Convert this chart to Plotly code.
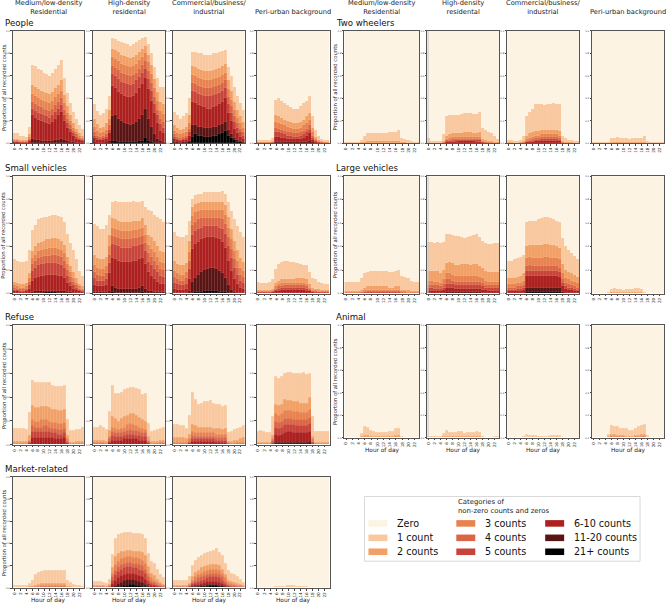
import plotly.graph_objects as go

W, H = 668, 606
HOURS = list(range(24))
HOUR_TICKS = list(range(0, 24, 2))
Y_TICKS = [0, 0.2, 0.4, 0.6, 0.8, 1.0]
Y_TICK_TEXT = ["0.0", "0.2", "0.4", "0.6", "0.8", "1.0"]

# category names, bottom of stack first
CATS = ["21+ counts", "11-20 counts", "6-10 counts", "5 counts", "4 counts",
        "3 counts", "2 counts", "1 count", "Zero"]
COLORS = {
    "Zero": "#fdf3e2", "1 count": "#f9c89f", "2 counts": "#f2a066",
    "3 counts": "#e8834f", "4 counts": "#da6646", "5 counts": "#c8443a",
    "6-10 counts": "#ad2020", "11-20 counts": "#5a1414", "21+ counts": "#000000",
}
COLUMN_TITLES = ["Medium/low-density<br>Residential", "High-density<br>residental",
                 "Commercial/business/<br>industrial", "Peri-urban background"]

# Each panel: cumulative upper edges (%) of 1 count, 2, 3, 4, 5, 6-10, 11-20, 21+ (top-down)
people_med = [
    [9,9,7,7,6,15,70,69,66,65,63,62,60,63,66,70,74,58,45,36,28,22,16,13],
    [4,4,3,3,3,8,52,50,48,47,46,45,44,46,49,52,56,43,33,25,18,13,9,7],
    [3,3,2,2,2,6,44,42,40,39,38,37,36,38,41,44,47,36,27,20,14,10,7,5],
    [2,2,1,1,1,4,37,35,33,32,31,30,29,31,34,37,40,30,22,16,11,8,5,4],
    [1,1,1,1,1,3,31,29,27,26,25,24,23,25,28,31,34,25,18,13,9,6,4,3],
    [1,1,0,0,0,2,25,23,21,20,19,18,17,19,22,25,28,20,14,10,7,4,3,2],
    [0,0,0,0,0,0,4,3,3,2,2,2,2,2,3,3,4,3,2,1,1,0,0,0],
]
people_high = [
    [35,29,25,27,31,42,94,93,91,90,89,88,87,88,90,92,94,95,88,80,68,58,50,50],
    [22,17,14,15,18,30,84,83,81,79,78,77,76,77,79,81,84,87,79,70,57,46,37,35],
    [15,11,9,10,12,22,77,75,73,71,70,69,68,69,71,74,77,80,72,62,49,38,29,26],
    [10,7,6,7,8,16,69,67,65,63,62,61,60,61,63,66,70,73,64,54,41,30,22,19],
    [7,5,4,5,6,12,62,60,57,55,54,53,52,53,56,59,63,66,57,47,35,25,17,14],
    [5,3,3,3,4,9,51,49,46,44,42,41,41,42,45,49,53,58,48,38,27,18,11,9],
    [1,0,0,0,1,2,24,25,22,20,18,17,16,17,19,22,25,31,22,15,8,4,2,1],
    [0,0,0,0,0,0,2,2,1,1,1,1,1,1,1,2,2,5,2,1,0,0,0,0],
]
people_com = [
    [28,25,22,24,27,40,81,81,80,80,79,79,79,80,80,81,82,83,68,60,50,42,36,30],
    [16,14,12,13,15,25,69,68,66,65,64,64,64,65,66,67,69,71,56,47,37,30,24,19],
    [11,9,8,9,10,18,61,60,58,57,56,56,56,57,58,59,61,63,48,39,30,23,18,14],
    [8,6,5,6,7,13,54,53,51,50,49,49,49,50,51,52,54,56,41,33,24,18,13,10],
    [6,4,3,4,5,10,47,46,44,43,42,42,42,43,44,45,47,49,35,27,19,14,10,7],
    [4,3,2,3,3,7,37,36,34,33,32,31,31,32,33,35,37,40,27,20,13,9,6,4],
    [1,1,0,1,1,2,16,16,15,15,14,14,14,15,15,16,17,19,12,8,5,3,2,1],
    [0,0,0,0,0,1,6,8,7,7,6,6,6,7,7,8,9,11,7,5,3,1,1,0],
]
people_peri = [
    [3,3,3,3,3,5,39,40,38,36,34,32,31,31,33,36,38,42,24,12,7,4,3,3],
    [1,1,1,1,1,2,25,24,23,21,20,19,18,18,19,21,24,27,14,6,3,2,1,1],
    [1,1,1,1,1,1,19,18,17,16,15,14,13,13,14,16,18,21,10,4,2,1,1,1],
    [0,0,0,0,0,1,14,13,12,11,10,10,9,9,10,11,13,16,7,3,1,1,0,0],
    [0,0,0,0,0,0,10,10,9,8,7,7,6,6,7,8,10,12,5,2,1,0,0,0],
    [0,0,0,0,0,0,6,6,5,5,4,4,4,4,4,5,7,9,3,1,0,0,0,0],
    [0,0,0,0,0,0,1,1,1,1,1,1,1,1,1,1,1,2,1,0,0,0,0,0],
]
two_med = [
    [1,1,1,1,1,3,7,9,9,9,9,9,9,9,10,10,10,12,5,4,3,2,1,1],
    [0,0,0,0,0,1,1,2,2,2,2,2,2,2,2,2,2,2,1,1,0,0,0,0],
]
two_high = [
    [5,2,2,2,2,8,24,25,25,25,25,26,27,27,27,26,26,28,14,12,10,9,7,4],
    [1,0,0,0,0,2,7,8,9,9,9,9,10,10,10,9,9,10,4,3,2,2,1,1],
    [0,0,0,0,0,1,4,5,6,6,6,6,6,6,6,6,6,6,2,1,1,1,0,0],
    [0,0,0,0,0,0,3,3,4,4,4,4,4,4,4,4,4,4,1,1,0,0,0,0],
    [0,0,0,0,0,0,2,2,2,3,3,3,3,3,3,3,3,3,1,0,0,0,0,0],
    [0,0,0,0,0,0,1,1,1,1,2,2,2,2,2,2,1,1,0,0,0,0,0,0],
]
two_com = [
    [3,3,2,2,3,7,24,28,31,35,35,35,34,35,35,36,35,35,7,5,3,3,2,2],
    [1,1,0,0,1,2,7,9,10,11,11,12,12,12,12,12,12,11,2,1,1,1,0,0],
    [0,0,0,0,0,1,4,5,6,7,7,8,8,8,8,8,8,7,1,0,0,0,0,0],
    [0,0,0,0,0,0,2,3,4,5,5,6,6,6,6,6,6,5,0,0,0,0,0,0],
    [0,0,0,0,0,0,1,2,2,3,3,4,4,4,4,4,4,3,0,0,0,0,0,0],
    [0,0,0,0,0,0,1,1,1,2,2,2,2,2,2,2,2,2,0,0,0,0,0,0],
]
two_peri = [
    [1,1,1,1,1,1,5,5,6,5,5,5,4,5,5,5,5,7,2,1,1,1,1,1],
    [0,0,0,0,0,0,1,1,1,1,1,1,1,1,1,1,1,1,0,0,0,0,0,0],
]
small_med = [
    [29,28,27,27,28,37,54,58,63,64,65,65,66,67,67,66,65,61,51,43,37,29,19,15],
    [10,9,8,8,9,17,36,40,43,44,45,46,46,47,47,46,45,41,31,23,18,13,8,6],
    [7,6,5,5,6,13,30,33,36,37,38,38,39,39,39,38,37,34,25,18,13,9,6,4],
    [5,4,4,4,4,10,25,28,30,31,32,32,32,33,33,32,31,28,20,14,10,7,4,3],
    [3,3,2,2,3,7,19,22,24,25,25,26,26,26,26,25,24,22,15,10,7,5,3,2],
    [2,2,1,1,2,4,11,13,14,15,15,16,16,16,16,15,15,13,9,6,4,3,2,1],
    [0,0,0,0,0,0,1,2,2,2,2,2,2,2,2,2,2,2,1,1,0,0,0,0],
    [0,0,0,0,0,0,0,0,0,0,0,1,1,1,1,0,0,0,0,0,0,0,0,0],
]
small_high = [
    [59,57,55,55,58,67,78,79,78,78,78,78,78,79,78,78,79,74,71,70,67,65,63,61],
    [33,30,29,29,31,50,64,63,62,61,61,61,61,62,62,62,64,58,50,48,45,40,36,35],
    [24,22,21,21,23,40,56,55,54,53,53,53,53,54,54,55,56,50,41,38,35,31,27,26],
    [18,16,15,15,17,33,49,48,47,46,46,46,46,47,47,48,49,43,34,31,28,24,21,20],
    [13,11,11,11,12,26,42,41,40,39,39,39,39,40,40,41,42,36,27,24,21,18,15,14],
    [7,6,6,6,7,17,30,29,28,27,27,27,27,28,28,29,30,25,18,15,12,10,8,8],
    [1,1,1,1,1,2,6,5,4,4,4,4,4,4,4,5,6,4,2,2,1,1,1,1],
    [0,0,0,0,0,0,1,0,0,0,0,0,0,0,0,0,1,0,0,0,0,0,0,0],
]
small_com = [
    [52,49,48,48,50,62,80,84,85,85,86,86,86,86,86,86,87,85,78,70,63,57,52,48],
    [28,25,24,24,26,45,74,76,77,78,78,78,78,78,78,78,78,75,65,55,45,37,30,27],
    [19,17,16,16,18,35,66,69,70,71,71,71,71,71,71,71,71,67,56,46,36,28,22,19],
    [14,12,11,11,13,28,58,61,63,64,64,64,64,64,64,64,63,59,48,38,29,22,16,14],
    [9,8,7,7,8,21,50,53,55,56,57,57,57,57,57,56,55,51,40,30,22,16,11,9],
    [4,3,3,3,4,12,38,42,44,46,47,48,48,48,47,46,44,39,28,19,12,8,5,4],
    [0,0,0,0,0,2,10,13,16,18,20,21,22,22,21,19,17,13,7,3,1,0,0,0],
    [0,0,0,0,0,0,0,1,1,1,2,2,2,2,2,1,1,1,0,0,0,0,0,0],
]
small_peri = [
    [10,9,9,9,10,12,21,25,27,28,28,27,27,26,25,24,24,18,13,12,10,9,8,8],
    [3,3,3,3,3,4,9,11,12,12,12,12,12,13,13,13,12,8,5,4,4,3,3,3],
    [2,2,2,2,2,3,6,8,9,9,9,9,9,9,9,9,8,5,3,3,2,2,2,2],
    [1,1,1,1,1,2,4,6,6,7,7,7,7,7,7,7,6,4,2,2,1,1,1,1],
    [1,1,1,1,1,1,3,4,5,5,5,5,5,5,5,5,4,3,1,1,1,1,1,1],
    [0,0,0,0,0,1,2,2,3,3,3,3,3,3,3,3,2,2,1,0,0,0,0,0],
]
large_med = [
    [10,10,10,10,10,13,17,18,19,19,19,19,19,19,18,18,19,20,15,14,13,11,10,10],
    [2,2,2,2,2,3,5,6,6,6,6,6,6,6,5,5,6,6,3,3,3,2,2,2],
    [1,1,1,1,1,1,3,3,3,3,3,3,3,3,3,3,3,3,2,2,1,1,1,1],
    [0,0,0,0,0,1,1,2,2,2,2,2,2,2,2,2,2,2,1,1,0,0,0,0],
    [0,0,0,0,0,0,1,1,1,1,1,1,1,1,1,1,1,1,0,0,0,0,0,0],
]
large_high = [
    [44,44,43,44,43,44,51,51,50,49,49,48,47,48,49,50,51,48,45,43,42,42,43,43],
    [19,19,19,19,17,20,26,27,26,24,24,25,25,25,24,25,25,23,22,19,18,18,18,18],
    [11,11,10,10,9,12,17,17,16,15,15,15,15,15,15,15,15,14,13,11,10,10,10,10],
    [7,7,7,7,6,8,12,12,11,10,10,10,10,10,10,10,10,10,9,7,7,7,7,7],
    [5,5,4,4,4,5,8,8,8,7,7,7,7,7,7,7,7,7,6,5,5,5,5,5],
    [2,2,2,2,2,3,5,5,5,4,4,4,4,4,4,4,4,4,3,3,2,2,2,2],
    [0,0,0,0,0,0,1,1,1,1,1,1,1,1,1,1,1,1,0,0,0,0,0,0],
]
large_com = [
    [28,28,29,30,31,33,61,62,62,62,63,64,65,65,64,63,62,61,47,40,37,34,32,29],
    [13,13,13,14,15,17,40,41,41,41,41,41,42,42,41,41,40,39,25,20,18,17,16,14],
    [8,8,8,9,9,11,30,31,30,30,30,30,31,31,30,30,30,29,17,13,12,11,10,9],
    [5,5,5,6,6,7,23,24,23,23,23,23,23,23,23,23,23,22,12,9,8,7,6,5],
    [3,3,3,4,4,5,19,19,19,19,19,19,19,19,19,19,19,18,9,6,5,5,4,3],
    [2,2,2,2,2,3,15,15,15,15,15,15,15,15,15,15,15,14,6,4,3,3,2,2],
    [0,0,0,0,0,0,5,5,5,5,5,5,5,5,5,5,5,5,1,0,0,0,0,0],
    [0,0,0,0,0,0,1,1,1,1,1,1,1,1,1,1,1,1,0,0,0,0,0,0],
]
large_peri = [
    [0,0,0,0,0,1,4,5,4,4,3,4,4,4,5,5,4,1,0,0,0,0,0,0],
    [0,0,0,0,0,0,1,1,1,1,1,1,1,1,1,1,1,0,0,0,0,0,0,0],
]
refuse_med = [
    [14,14,14,14,13,27,54,52,52,52,52,52,52,50,49,49,49,50,21,12,12,13,13,15],
    [3,3,3,3,3,8,33,31,31,32,32,32,31,30,30,29,29,30,8,2,2,3,3,3],
    [1,1,1,1,1,4,21,20,20,21,21,21,20,19,19,18,18,19,5,1,1,1,1,1],
    [1,1,1,1,1,3,16,15,15,15,16,16,15,14,14,13,13,14,3,1,1,1,1,1],
    [0,0,0,0,0,2,11,11,11,11,11,11,11,10,10,9,9,10,2,0,0,0,0,0],
    [0,0,0,0,0,1,6,6,6,6,6,6,6,6,5,5,5,6,1,0,0,0,0,0],
    [0,0,0,0,0,0,1,1,1,1,1,1,1,1,1,1,1,1,0,0,0,0,0,0],
]
refuse_high = [
    [15,15,16,15,13,28,50,43,43,44,46,47,48,48,47,46,42,43,18,11,12,13,14,15],
    [4,4,4,4,3,12,24,22,20,22,24,25,26,26,25,23,21,20,7,3,3,3,4,4],
    [2,2,2,2,1,7,15,14,13,14,15,17,18,17,16,15,14,13,4,1,1,1,2,2],
    [1,1,1,1,1,5,11,10,10,10,11,12,13,12,12,11,10,10,3,1,1,1,1,1],
    [1,1,1,1,0,3,8,7,7,7,8,9,9,9,8,8,7,7,2,0,0,1,1,1],
    [0,0,0,0,0,2,4,4,4,4,5,5,5,5,5,4,4,4,1,0,0,0,0,0],
    [0,0,0,0,0,0,1,1,1,1,1,1,1,1,1,1,1,1,0,0,0,0,0,0],
]
refuse_com = [
    [17,17,16,16,14,25,44,38,34,35,36,36,37,35,34,34,32,33,10,11,13,14,15,16],
    [6,6,6,6,5,9,17,16,15,15,15,15,15,14,14,14,13,14,3,3,4,4,5,6],
    [2,2,2,2,2,5,11,10,10,10,10,10,10,10,9,9,9,9,2,1,1,2,2,2],
    [1,1,1,1,1,3,8,7,7,7,7,7,7,7,6,6,6,6,1,1,1,1,1,1],
    [0,0,0,0,0,2,5,5,5,5,5,5,5,5,4,4,4,4,1,0,0,0,0,0],
    [0,0,0,0,0,1,3,3,3,3,3,3,3,3,2,2,2,2,0,0,0,0,0,0],
]
refuse_peri = [
    [11,12,11,10,10,24,57,56,57,60,61,61,60,60,60,61,59,60,24,11,11,11,11,11],
    [2,2,2,2,2,8,34,33,34,38,37,37,36,36,35,35,35,40,7,2,2,2,2,2],
    [1,1,1,1,1,5,26,25,26,29,29,29,28,28,27,27,27,30,5,1,1,1,1,1],
    [1,1,0,0,0,4,20,19,20,22,22,22,21,21,21,21,21,23,3,1,0,0,0,0],
    [0,0,0,0,0,2,15,14,15,17,17,17,17,16,16,16,16,18,2,0,0,0,0,0],
    [0,0,0,0,0,1,9,8,9,10,11,11,10,10,10,10,10,11,1,0,0,0,0,0],
    [0,0,0,0,0,0,2,2,2,2,2,2,2,2,2,2,2,3,0,0,0,0,0,0],
]
animal_med = [
    [0,0,0,0,0,4,10,9,7,6,5,5,5,5,6,6,8,8,1,0,0,0,0,0],
    [0,0,0,0,0,1,2,2,1,1,1,1,1,1,1,1,2,2,0,0,0,0,0,0],
]
animal_high = [
    [1,1,1,1,1,4,7,5,5,5,6,6,4,5,5,5,6,5,1,0,0,0,1,1],
    [0,0,0,0,0,1,1,1,1,1,1,1,1,1,1,1,1,1,0,0,0,0,0,0],
]
animal_com = [
    [0,0,0,0,0,1,3,2,2,2,1,1,1,1,2,2,2,2,0,0,0,0,0,0],
]
animal_peri = [
    [0,0,0,0,0,3,11,10,10,8,8,8,7,7,8,10,11,12,2,0,0,0,0,0],
    [0,0,0,0,0,1,3,3,2,2,2,1,1,1,2,2,3,3,0,0,0,0,0,0],
    [0,0,0,0,0,0,1,1,1,1,1,0,0,0,1,1,1,1,0,0,0,0,0,0],
]
market_med = [
    [2,2,2,2,2,4,7,12,14,15,16,16,16,16,16,16,16,16,7,5,3,2,2,1],
    [0,0,0,0,0,1,1,2,3,4,4,4,4,4,4,4,4,4,1,1,0,0,0,0],
    [0,0,0,0,0,0,1,1,1,2,2,2,2,2,2,2,2,2,0,0,0,0,0,0],
    [0,0,0,0,0,0,0,1,1,1,1,1,1,1,1,1,1,1,0,0,0,0,0,0],
]
market_high = [
    [6,6,6,5,4,8,30,44,48,49,50,50,50,49,49,49,48,44,31,24,22,17,12,9],
    [2,2,2,2,1,3,18,28,31,33,33,34,34,33,33,33,32,29,19,13,11,8,5,3],
    [1,1,1,1,1,2,13,21,24,26,27,28,28,27,27,26,25,22,13,9,7,5,3,2],
    [1,1,1,1,0,1,10,16,19,21,22,23,23,22,22,21,20,17,10,6,5,3,2,1],
    [0,0,0,0,0,1,7,12,15,17,18,19,19,18,18,17,16,13,7,4,3,2,1,1],
    [0,0,0,0,0,0,4,7,9,11,12,13,13,13,12,11,10,8,4,2,2,1,0,0],
    [0,0,0,0,0,0,1,2,4,5,7,8,8,8,7,6,5,3,1,0,0,0,0,0],
    [0,0,0,0,0,0,0,0,1,1,2,2,3,3,2,2,1,1,0,0,0,0,0,0],
]
market_com = [
    [7,7,7,7,7,10,20,25,27,29,31,32,33,34,35,32,29,22,16,13,12,10,8,5],
    [2,2,2,2,2,4,10,14,16,18,19,20,21,21,21,20,17,12,7,6,5,4,3,2],
    [1,1,1,1,1,3,7,10,12,13,15,16,17,17,17,16,13,9,5,4,3,2,2,1],
    [1,1,1,1,1,2,5,7,9,10,11,12,13,13,13,12,10,6,3,2,2,1,1,1],
    [0,0,0,0,0,1,4,5,6,7,8,9,10,10,10,9,7,4,2,1,1,1,0,0],
    [0,0,0,0,0,1,2,3,3,4,5,6,6,6,6,5,4,2,1,1,0,0,0,0],
    [0,0,0,0,0,0,1,1,1,2,2,3,3,3,3,2,2,1,0,0,0,0,0,0],
    [0,0,0,0,0,0,0,0,1,1,1,1,2,2,2,1,1,0,0,0,0,0,0,0],
]
market_peri = [
    [0,0,0,0,0,0,1,1,1,1,2,2,2,1,1,1,1,0,0,0,0,0,0,0],
]

LEFT_ROWS = [("People", [people_med, people_high, people_com, people_peri]),
             ("Small vehicles", [small_med, small_high, small_com, small_peri]),
             ("Refuse", [refuse_med, refuse_high, refuse_com, refuse_peri]),
             ("Market-related", [market_med, market_high, market_com, market_peri])]
RIGHT_ROWS = [("Two wheelers", [two_med, two_high, two_com, two_peri]),
              ("Large vehicles", [large_med, large_high, large_com, large_peri]),
              ("Animal", [animal_med, animal_high, animal_com, animal_peri])]

# ---- geometry (pixels) ----
LEFT_X = [(12, 83), (92, 164), (172, 244), (256, 329)]
RIGHT_X = [(344, 419), (427, 499), (507, 579), (592, 664)]
LEFT_Y = [(30, 143), (176, 294), (326, 446), (478, 590)]
RIGHT_Y = [(30, 143), (176, 294), (326, 439)]
FONT = "DejaVu Sans"


def px(x):
    return x / W


def py(y):
    return 1 - y / H


fig = go.Figure()
annotations = []
shapes = []
axis_n = [0]


def add_panel(data, xr, yr, ylabel, xlabel, left_strip=False):
    axis_n[0] += 1
    n = axis_n[0]
    sfx = "" if n == 1 else str(n)
    rows = [list(r) for r in data] + [[0] * 24 for _ in range(8 - len(data))]
    # bottom-up cumulative edges: 21+, 11-20, 6-10, 5, 4, 3, 2, 1, zero(100)
    edges = [rows[7], rows[6], rows[5], rows[4], rows[3], rows[2], rows[1], rows[0], [100] * 24]
    prev = [0] * 24
    for cat, top in zip(CATS, edges):
        vals = [max(t - p, 0) / 100 for t, p in zip(top, prev)]
        prev = [max(t, p) for t, p in zip(top, prev)]
        fig.add_trace(go.Bar(
            x=HOURS, y=vals, name=cat, showlegend=False,
            marker=dict(color=COLORS[cat], line=dict(color="rgba(255,255,255,0.18)", width=0.4)),
            width=1, xaxis="x" + sfx, yaxis="y" + sfx, hoverinfo="skip"))
    fig.layout["xaxis" + sfx] = dict(
        domain=[px(xr[0]), px(xr[1])], anchor="y" + sfx, range=[-0.5, 23.5],
        tickvals=HOUR_TICKS, ticktext=[str(h) for h in HOUR_TICKS], tickangle=-90,
        tickfont=dict(size=4.2, color="#222", family=FONT), ticks="outside", ticklen=1.5,
        tickcolor="#444", showline=True, linecolor="#555", linewidth=1, mirror=True,
        showgrid=False, zeroline=False, fixedrange=True)
    fig.layout["yaxis" + sfx] = dict(
        domain=[py(yr[1]), py(yr[0])], anchor="x" + sfx, range=[0, 1],
        tickvals=Y_TICKS, ticktext=Y_TICK_TEXT, tickfont=dict(size=2.5, color="#333", family=FONT),
        ticks="outside", ticklen=1.5, tickcolor="#444", showline=True, linecolor="#555",
        linewidth=1, mirror=True, showgrid=False, zeroline=False, fixedrange=True)
    if left_strip:
        shapes.append(dict(type="rect", xref="x" + sfx, yref="y" + sfx, x0=-0.5, x1=-0.1, y0=0, y1=1,
                           line=dict(width=0), fillcolor="#c4c4c4", layer="above"))
    if ylabel:
        annotations.append(dict(x=px(xr[0] - 9), y=py((yr[0] + yr[1]) / 2), xref="paper", yref="paper",
                                text="Proportion of all recorded counts", textangle=-90, showarrow=False,
                                font=dict(size=5.3, color="#222", family=FONT), xanchor="center", yanchor="middle"))
    if xlabel:
        annotations.append(dict(x=px((xr[0] + xr[1]) / 2), y=py(yr[1] + 12.5), xref="paper", yref="paper",
                                text="Hour of day", showarrow=False, xanchor="center", yanchor="middle",
                                font=dict(size=5.8, color="#222", family=FONT)))


def add_group(rows, xs, ys, title_x, strip_col=None):
    for r, (rname, panels) in enumerate(rows):
        annotations.append(dict(x=px(title_x), y=py(ys[r][0] - 8), xref="paper", yref="paper", text=rname,
                                showarrow=False, xanchor="left", yanchor="middle",
                                font=dict(size=8.6, color="#111", family=FONT)))
        for c, d in enumerate(panels):
            add_panel(d, xs[c], ys[r], c == 0, r == len(rows) - 1, left_strip=(c == strip_col))
    for c, t in enumerate(COLUMN_TITLES):
        annotations.append(dict(x=px((xs[c][0] + xs[c][1]) / 2), y=py(17), xref="paper", yref="paper",
                                text=t, showarrow=False, xanchor="center", yanchor="bottom",
                                font=dict(size=6.7, color="#222", family=FONT)))


add_group(LEFT_ROWS, LEFT_X, LEFT_Y, 2)
add_group(RIGHT_ROWS, RIGHT_X, RIGHT_Y, 333, strip_col=1)

# ---- manual legend ----
LEG_BOX = (364, 498, 640, 563)
shapes.append(dict(type="rect", xref="paper", yref="paper", x0=px(LEG_BOX[0]), x1=px(LEG_BOX[2]),
                   y0=py(LEG_BOX[3]), y1=py(LEG_BOX[1]), line=dict(color="#d8d8d8", width=1),
                   fillcolor="white"))
annotations.append(dict(x=px(456), y=py(508), xref="paper", yref="paper", align="left",
                        text="Categories of<br>non-zero counts and zeros", showarrow=False,
                        xanchor="left", yanchor="middle", font=dict(size=6.9, color="#222", family=FONT)))
LEG_ORDER = [["Zero", "1 count", "2 counts"], ["3 counts", "4 counts", "5 counts"],
             ["6-10 counts", "11-20 counts", "21+ counts"]]
LEG_COL_X = [368, 456, 545]
LEG_ROW_Y = [525, 539.5, 553.5]
for ci, col in enumerate(LEG_ORDER):
    for ri, cat in enumerate(col):
        x0 = LEG_COL_X[ci]
        yc = LEG_ROW_Y[ri]
        shapes.append(dict(type="rect", xref="paper", yref="paper", x0=px(x0), x1=px(x0 + 19),
                           y0=py(yc + 3.3), y1=py(yc - 3.3), line=dict(width=0),
                           fillcolor=COLORS[cat]))
        annotations.append(dict(x=px(x0 + 27), y=py(yc), xref="paper", yref="paper", text=cat,
                                showarrow=False, xanchor="left", yanchor="middle",
                                font=dict(size=9.6, color="#111", family=FONT)))

fig.update_layout(width=W, height=H, margin=dict(l=0, r=0, t=0, b=0), barmode="stack", bargap=0,
                  paper_bgcolor="white", plot_bgcolor="white", showlegend=False,
                  annotations=annotations, shapes=shapes, font=dict(family=FONT))
fig.write_html("out.html", config={"displayModeBar": False},
               post_script="document.body.style.margin='0';document.body.style.padding='0';document.body.style.overflow='hidden';")
